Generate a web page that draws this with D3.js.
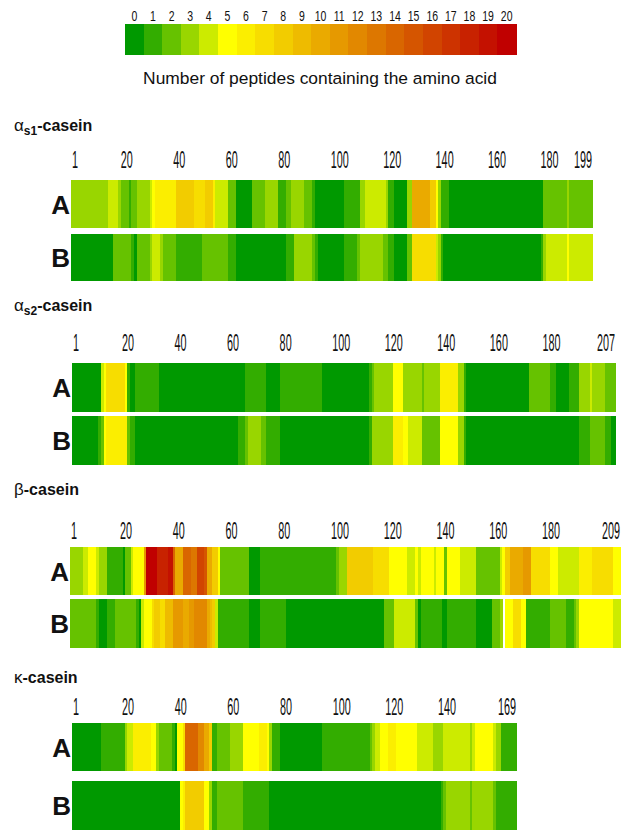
<!DOCTYPE html>
<html><head><meta charset="utf-8">
<script src="https://cdn.jsdelivr.net/npm/d3@7"></script>
<style>
body{margin:0;background:#fff}
svg{display:block}
text{font-family:"Liberation Sans",Arial,Helvetica,sans-serif;fill:#111}
</style>
</head><body>
<svg id="chart" width="626" height="830"></svg>
<script>
// ---------- DATA ----------
const legendValues = [0,1,2,3,4,5,6,7,8,9,10,11,12,13,14,15,16,17,18,19,20];
const legendTitle = "Number of peptides containing the amino acid";

const proteinNames = ["α", "α", "β", "κ"];
const proteinSubs  = ["s1", "s2", "", ""];
const proteinLengths = [199, 207, 209, 169];
const variantLabels = ["A", "B"];

const ticksAs1 = [1,20,40,60,80,100,120,140,160,180,199];
const ticksAs2 = [1,20,40,60,80,100,120,140,160,180,207];
const ticksB   = [1,20,40,60,80,100,120,140,160,180,209];
const ticksK   = [1,20,40,60,80,100,120,140,169];

// runs: [first residue offset, end offset (exclusive), number of peptides]
const as1A = [[0,14,3],[14,18,4],[18,19,3],[19,22,2],[22,23,1],[23,25,2],[25,30,3],[30,31,4],[31,32,5],[32,40,6],[40,47,8],[47,51,7],[51,54,8],[54,55,6],[55,60,4],[60,63,2],[63,69,0],[69,74,2],[74,79,3],[79,82,1],[82,84,2],[84,89,3],[89,92,2],[92,93,1],[93,104,0],[104,110,1],[110,112,3],[112,120,4],[120,121,3],[121,123,1],[123,128,0],[128,130,3],[130,137,10],[137,139,8],[139,140,5],[140,141,3],[141,144,1],[144,180,0],[180,189,2],[189,190,3],[190,199,2]];
const as1B = [[0,16,0],[16,23,2],[23,24,1],[24,25,0],[25,30,2],[30,31,3],[31,34,4],[34,35,3],[35,40,2],[40,50,1],[50,60,2],[60,63,1],[63,82,0],[82,85,1],[85,92,3],[92,93,2],[93,94,1],[94,104,0],[104,109,1],[109,110,2],[110,119,3],[119,121,2],[121,123,1],[123,128,0],[128,130,2],[130,139,7],[139,140,4],[140,141,3],[141,142,1],[142,179,0],[179,180,1],[180,181,3],[181,189,4],[189,190,5],[190,199,4]];
const as2A = [[0,11,0],[11,12,4],[12,13,5],[13,20,7],[20,21,5],[21,22,1],[22,24,0],[24,33,1],[33,66,0],[66,74,1],[74,79,0],[79,95,1],[95,113,0],[113,114,1],[114,115,2],[115,122,3],[122,126,5],[126,133,3],[133,134,2],[134,140,3],[140,147,6],[147,149,3],[149,150,1],[150,174,0],[174,182,2],[182,184,1],[184,189,0],[189,193,1],[193,197,3],[197,198,4],[198,203,3],[203,207,2]];
const as2B = [[0,10,0],[10,11,1],[11,12,2],[12,13,5],[13,21,6],[21,22,2],[22,24,1],[24,63,0],[63,66,1],[66,67,2],[67,72,3],[72,74,2],[74,79,1],[79,113,0],[113,114,1],[114,122,3],[122,126,6],[126,128,5],[128,133,4],[133,140,2],[140,147,5],[147,149,3],[149,150,1],[150,193,0],[193,197,1],[197,203,2],[203,205,1],[205,207,0]];
const betaA = [[0,5,3],[5,7,4],[7,10,5],[10,11,4],[11,14,3],[14,20,1],[20,21,0],[21,23,2],[23,24,4],[24,28,5],[28,29,11],[29,33,20],[33,37,18],[37,39,19],[39,40,14],[40,43,10],[43,46,14],[46,48,13],[48,51,16],[51,52,15],[52,54,10],[54,56,8],[56,57,5],[57,68,2],[68,72,0],[72,101,1],[101,102,2],[102,105,3],[105,115,8],[115,121,7],[121,128,5],[128,131,4],[131,132,5],[132,133,4],[133,138,5],[138,139,4],[139,142,5],[142,143,2],[143,148,5],[148,154,4],[154,163,2],[163,164,4],[164,165,5],[165,167,8],[167,172,10],[172,175,11],[175,182,7],[182,185,5],[185,193,4],[193,198,6],[198,206,7],[206,209,5]];
const betaB = [[0,10,2],[10,11,1],[11,14,0],[14,17,1],[17,25,2],[25,26,1],[26,27,0],[27,28,4],[28,31,5],[31,32,7],[32,34,8],[34,36,7],[36,39,9],[39,43,11],[43,45,10],[45,47,11],[47,52,12],[52,53,10],[53,54,9],[54,55,8],[55,56,4],[56,68,1],[68,72,0],[72,82,1],[82,119,0],[119,123,2],[123,131,4],[131,132,2],[132,133,0],[133,141,1],[141,143,0],[143,154,1],[154,160,0],[160,163,2],[163,164,3],[164,165,null],[165,168,5],[168,171,7],[171,173,5],[173,182,1],[182,188,2],[188,191,1],[191,192,2],[192,193,3],[193,206,5],[206,209,4]];
const kappaA = [[0,11,0],[11,20,1],[20,21,3],[21,23,4],[23,30,6],[30,32,5],[32,33,3],[33,38,2],[38,39,1],[39,40,0],[40,42,5],[42,43,7],[43,48,14],[48,50,12],[50,52,10],[52,53,8],[53,55,1],[55,60,2],[60,65,3],[65,71,5],[71,74,6],[74,75,5],[75,76,3],[76,79,1],[79,95,0],[95,113,1],[113,114,2],[114,115,3],[115,117,4],[117,120,5],[120,123,6],[123,131,5],[131,137,4],[137,141,3],[141,151,4],[151,152,3],[152,153,4],[153,160,5],[160,161,4],[161,163,3],[163,169,1]];
const kappaB = [[0,41,0],[41,42,5],[42,43,6],[43,50,8],[50,52,5],[52,53,3],[53,55,1],[55,65,2],[65,75,1],[75,140,0],[140,141,1],[141,142,2],[142,151,3],[151,152,2],[152,160,3],[160,161,2],[161,169,1]];

// ---------- LAYOUT ----------
const svg = d3.select("#chart");
const color = d3.scaleLinear().domain([0,5,20]).range(["#009900","#ffff00","#c00000"]);

// legend
const lx = d3.scaleBand().domain(legendValues).range([125,516]);
const leg = svg.append("g");
leg.selectAll("rect").data(legendValues).join("rect")
  .attr("x", d => lx(d)).attr("y", 24)
  .attr("width", lx.bandwidth() + 0.5).attr("height", 31)
  .attr("fill", d => color(d)).attr("shape-rendering","crispEdges");
leg.selectAll("g.lab").data(legendValues).join("g").attr("class","lab")
  .attr("transform", d => `translate(${lx(d) + lx.bandwidth()/2},20.5)`)
  .append("text").attr("transform","scale(0.7,1)")
  .attr("text-anchor","middle").style("font-size","15px").text(d => d);
svg.append("text").attr("x", 320).attr("y", 84).attr("text-anchor","middle")
  .style("font-size","17.4px").text(legendTitle);

const panels = [
  {rows:[as1A, as1B], ticks:ticksAs1, x0:71, x1:593, title:131, tick:168, ya:[180,234], h:[48,47]},
  {rows:[as2A, as2B], ticks:ticksAs2, x0:72, x1:616, title:311, tick:351, ya:[363,416], h:[49,49]},
  {rows:[betaA, betaB], ticks:ticksB, x0:70, x1:621, title:495, tick:539, ya:[547,599], h:[48,49]},
  {rows:[kappaA, kappaB], ticks:ticksK, x0:72, x1:517, title:683, tick:715, ya:[723,781], h:[48,49]}
];

panels.forEach((p, i) => {
  const n = proteinLengths[i];
  const x = d3.scaleLinear().domain([0, n]).range([p.x0, p.x1]);
  const g = svg.append("g");

  // title
  const t = g.append("text").attr("x", 14).attr("y", p.title);
  t.append("tspan").style("font-size","17px").text(proteinNames[i]);
  if (proteinSubs[i]) {
    t.append("tspan").attr("dy", 4).style("font-size","12px").style("font-weight","bold").text(proteinSubs[i]);
    t.append("tspan").attr("dy", -4).style("font-size","16px").style("font-weight","bold").text("-casein");
  } else {
    t.append("tspan").style("font-size","16px").style("font-weight","bold").text("-casein");
  }

  // ticks
  p.ticks.forEach((tk, j) => {
    const last = j === p.ticks.length - 1;
    const xx = last ? x(n) - 1 : x(tk - 1) + (tk === 1 ? 1 : 0);
    g.append("g").attr("transform", `translate(${xx},${p.tick})`)
      .append("text").attr("transform","scale(0.47,1)")
      .attr("text-anchor", last ? "end" : "start")
      .style("font-size","23px").text(tk);
  });

  // rows
  p.rows.forEach((runs, r) => {
    const y0 = p.ya[r], hh = p.h[r];
    g.append("g").selectAll("rect").data(runs.filter(d => d[2] !== null)).join("rect")
      .attr("x", d => x(d[0])).attr("y", y0)
      .attr("width", d => x(d[1]) - x(d[0]) + 0.4).attr("height", hh)
      .attr("fill", d => color(d[2])).attr("shape-rendering","crispEdges");
    g.append("text").attr("x", p.x0 - 1).attr("y", y0 + hh/2 + 9.5)
      .attr("text-anchor","end").style("font-size","26px").style("font-weight","bold")
      .text(variantLabels[r]);
  });
});
</script>
</body></html>
